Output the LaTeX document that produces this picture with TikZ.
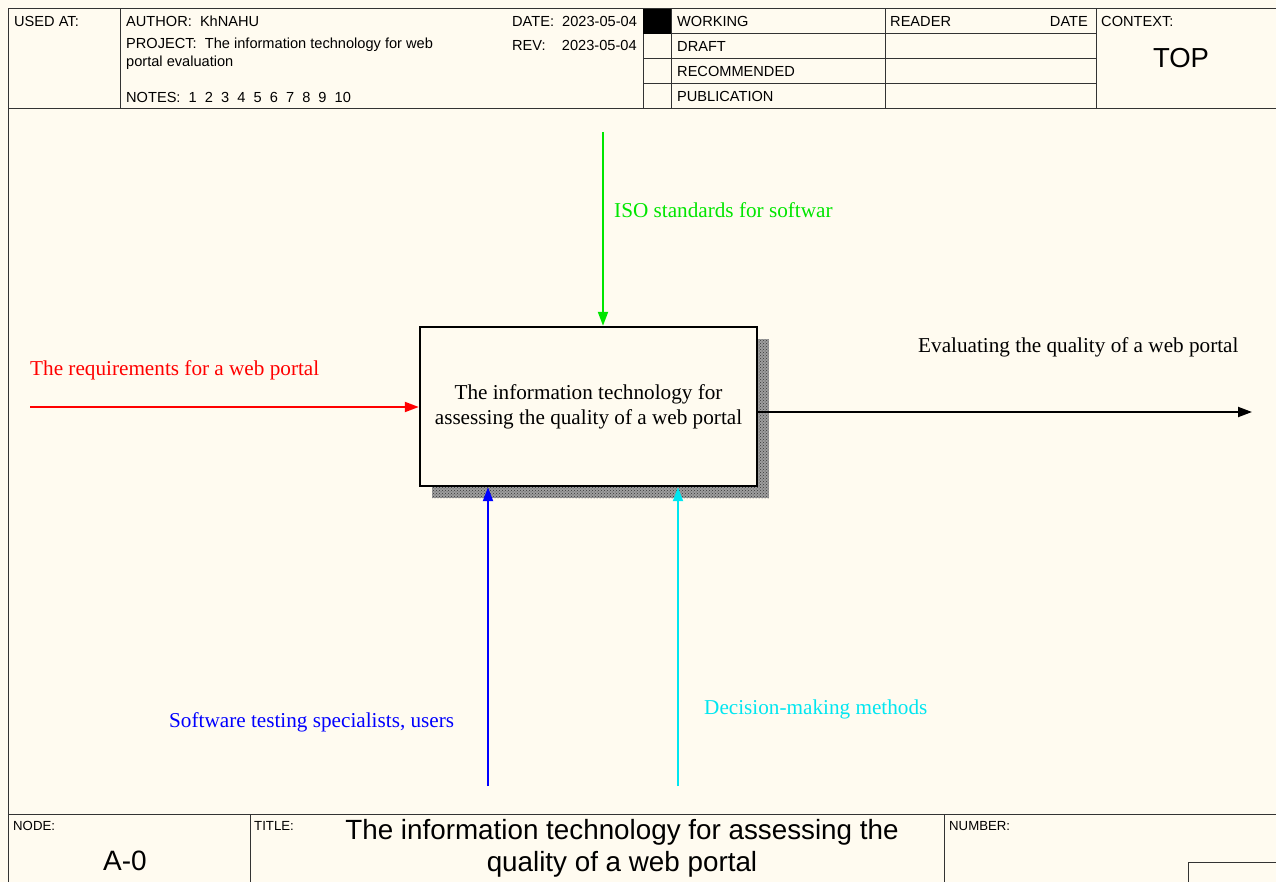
\documentclass[tikz,border=0pt]{standalone}
\usepackage{fontspec}
\setmainfont{Liberation Serif}
\setsansfont{Liberation Sans}
\usetikzlibrary{arrows.meta,patterns}
\definecolor{paper}{RGB}{255,251,240}
\definecolor{ggreen}{RGB}{0,230,0}
\definecolor{gcyan}{RGB}{0,230,240}
\begin{document}
\begin{tikzpicture}[x=1pt,y=-1pt,
  frame/.style={draw=black!80,line width=1pt},
  hdr/.style={font=\sffamily\fontsize{14.6}{16}\selectfont,inner sep=0pt,anchor=west},
  sml/.style={font=\sffamily\fontsize{13.2}{15}\selectfont,inner sep=0pt,anchor=west},
  lbl/.style={font=\fontsize{21.2}{24}\selectfont,inner sep=0pt,anchor=west},
  flow/.style={line width=2pt,-{Triangle[length=14pt,width=10pt]}},
  procbox/.style={draw=black,line width=2.4pt,fill=paper,minimum width=337pt,minimum height=159pt,align=center,font=\fontsize{21.2}{25}\selectfont,inner sep=0pt}
]
\useasboundingbox (0,0) rectangle (1276,882);
\fill[paper] (0,0) rectangle (1276,882);

% ---------- header frame ----------
\draw[frame] (1276,9) -- (8,9) -- (8,882);
\draw[frame] (8,109) -- (1276,109);
\draw[frame] (120,9) -- (120,109);
\draw[frame] (643,9) -- (643,109);
\draw[frame] (671,9) -- (671,109);
\draw[frame] (885,9) -- (885,109);
\draw[frame] (1096,9) -- (1096,109);
\foreach \yy in {34,59,84} \draw[frame] (643,\yy) -- (1096,\yy);
\fill[black] (643,9) rectangle (671,34);

\node[hdr] (usedat) at (14,21) {USED AT:};
\node[hdr] (author) at (126,21) {AUTHOR:\ \ KhNAHU};
\node[hdr] (project) at (126,45) {PROJECT:\ \ The information technology for web};
\node[hdr] (project2) at (126,63) {portal evaluation};
\node[hdr] (notes) at (126,97) {NOTES:\ \ 1\ \ 2\ \ 3\ \ 4\ \ 5\ \ 6\ \ 7\ \ 8\ \ 9\ \ 10};
\node[hdr] (date) at (512,21) {DATE:\ \ 2023-05-04};
\node[hdr] (rev) at (512,45) {REV:\ \ \ \ 2023-05-04};
\node[hdr] (working) at (677,21) {WORKING};
\node[hdr] (draft) at (677,46) {DRAFT};
\node[hdr] (recommended) at (677,71) {RECOMMENDED};
\node[hdr] (publication) at (677,96) {PUBLICATION};
\node[hdr] (reader) at (890,21) {READER};
\node[hdr,anchor=east] (rdate) at (1088,21) {DATE};
\node[hdr] (context) at (1101,21) {CONTEXT:};
\node[font=\sffamily\fontsize{27.5}{30}\selectfont,inner sep=0pt] (top) at (1181,58) {TOP};

% ---------- footer ----------
\draw[frame] (8,814) -- (1276,814);
\draw[frame] (250,814) -- (250,882);
\draw[frame] (944,814) -- (944,882);
\draw[frame] (1276,862) -- (1188,862) -- (1188,882);
\node[sml] (nodelbl) at (13,826) {NODE:};
\node[font=\sffamily\fontsize{28}{30}\selectfont,inner sep=0pt] (nodeid) at (125,861) {A-0};
\node[sml] (titlelbl) at (254,826) {TITLE:};
\node[font=\sffamily\fontsize{27.8}{32}\selectfont,align=center,inner sep=0pt] (title) at (622,848) {The information technology for assessing the\\quality of a web portal};
\node[sml] (numberlbl) at (949,826) {NUMBER:};

% ---------- process box ----------
\fill[black!38] (432,339) rectangle (769,498);
\fill[pattern=crosshatch dots,pattern color=black!80] (432,339) rectangle (769,498);
\node[procbox] (proc) at (588.5,406.5) {The information technology for\\assessing the quality of a web portal};

% ---------- arrows ----------
\coordinate (inS) at (30,407);
\coordinate (ctlS) at (603,132);
\coordinate (outE) at (1252,412);
\coordinate (mech1S) at (488,786);
\coordinate (mech2S) at (678,786);

\draw[flow,red] (inS) -- (proc.west |- inS);
\draw[flow,ggreen] (ctlS) -- (ctlS |- proc.north);
\draw[flow,black] (proc.east |- outE) -- (outE);
\draw[flow,blue] (mech1S) -- (mech1S |- proc.south);
\draw[flow,gcyan] (mech2S) -- (mech2S |- proc.south);

\node[lbl,red] (inlbl) at (30,370) {The requirements for a web portal};
\node[lbl,ggreen] (ctllbl) at (614,210) {ISO standards for softwar};
\node[lbl,black] (outlbl) at (918,347) {Evaluating the quality of a web portal};
\node[lbl,blue] (m1lbl) at (169,722) {Software testing specialists, users};
\node[lbl,gcyan] (m2lbl) at (704,709) {Decision-making methods};
\end{tikzpicture}
\end{document}
